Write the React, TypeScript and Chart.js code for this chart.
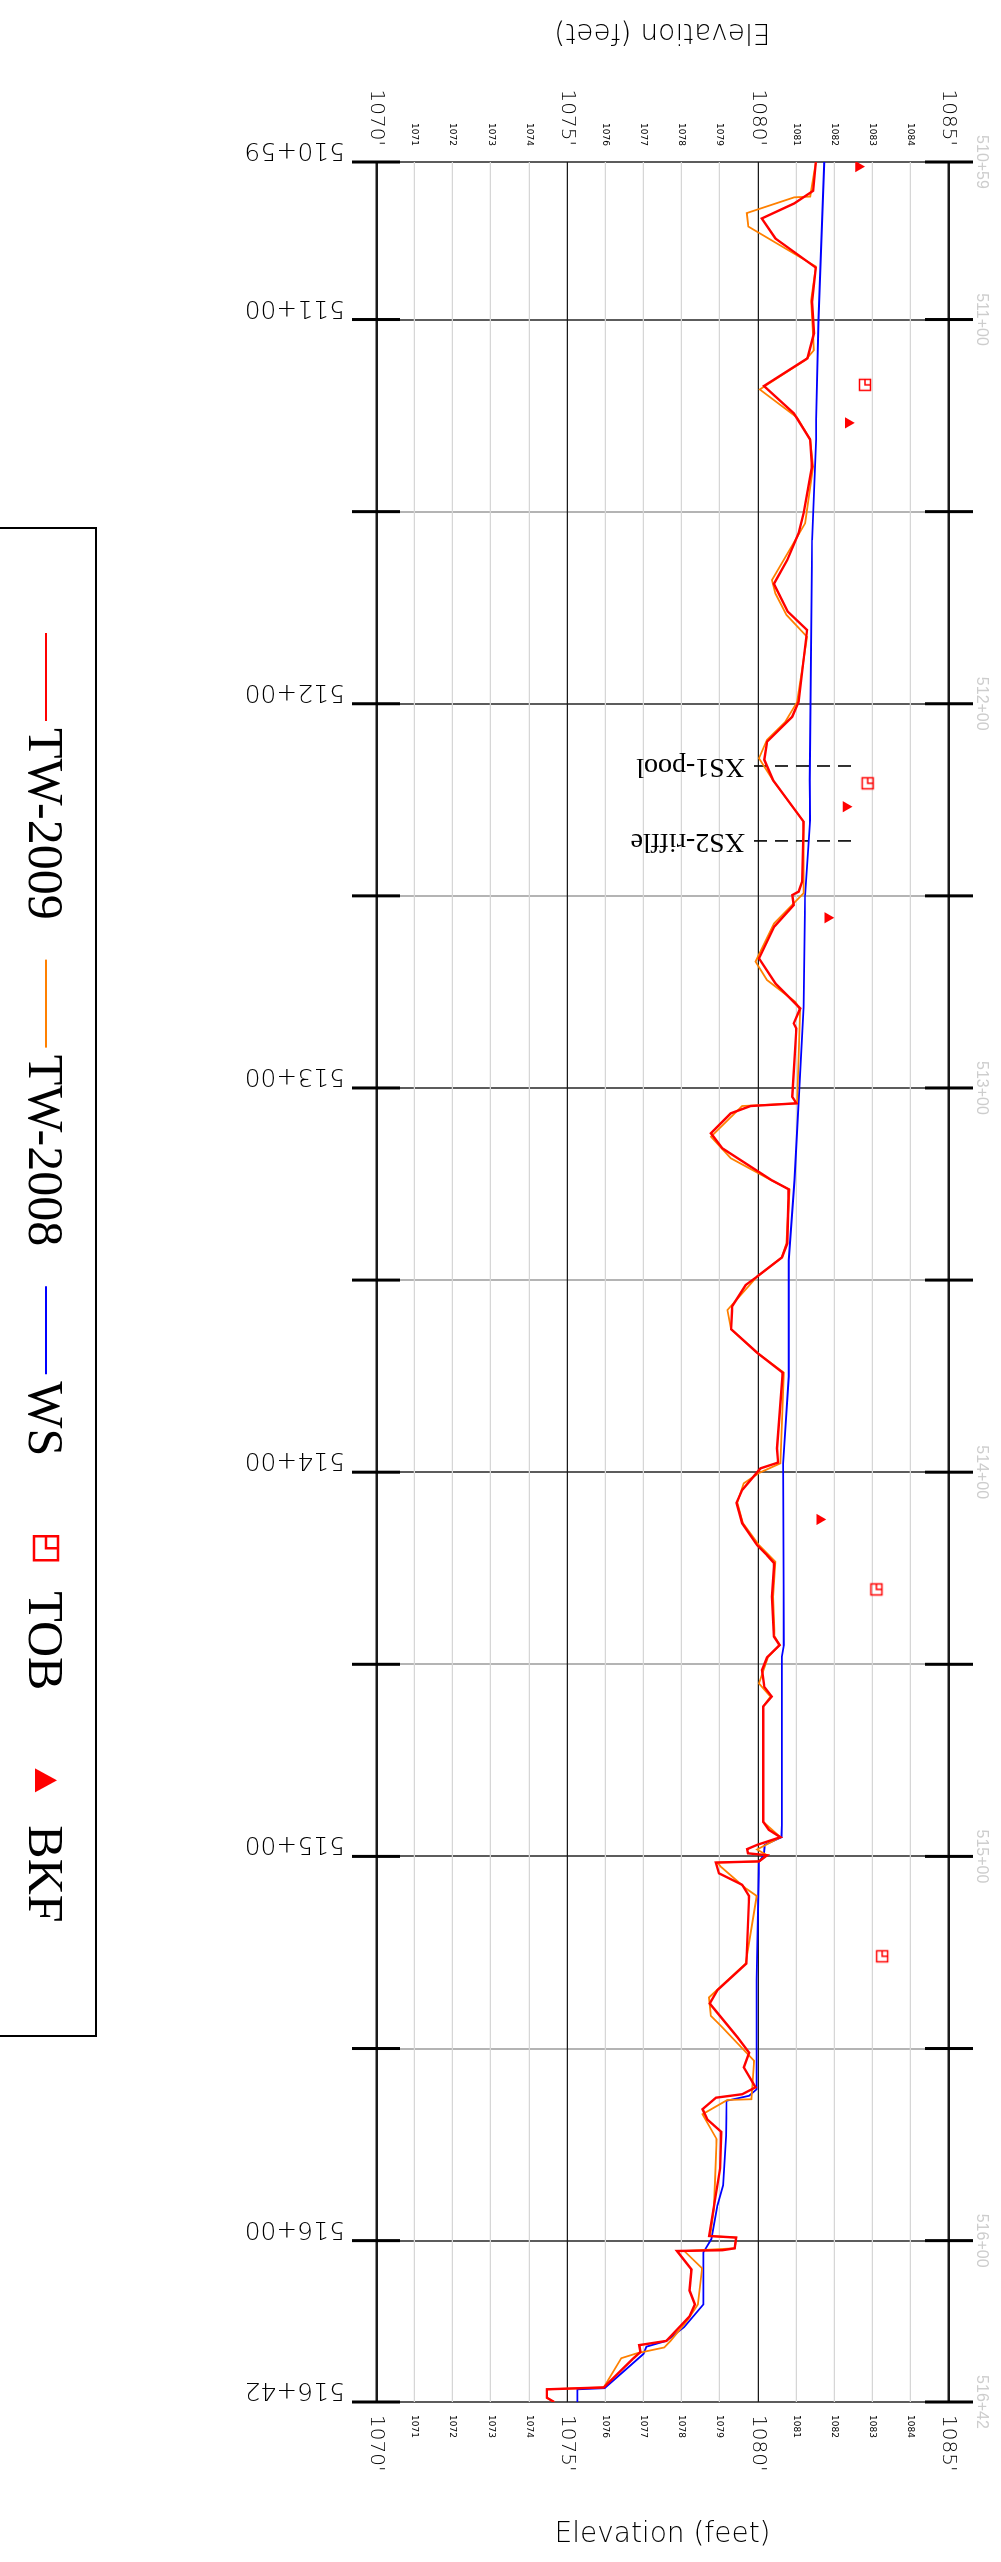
import React, { useEffect, useRef } from "react";
import { Chart, registerables } from "chart.js";

Chart.register(...registerables);

// ---------------- data ----------------
const stationMin = 51059;
const stationMax = 51642;
const elevMin = 1069.36;
const elevMax = 1085.64;

const elevTicks = [1070, 1071, 1072, 1073, 1074, 1075, 1076, 1077, 1078, 1079, 1080, 1081, 1082, 1083, 1084, 1085];
const stationGrid = [51059, 51100, 51150, 51200, 51250, 51300, 51350, 51400, 51450, 51500, 51550, 51600, 51642];
const stationLabelValues = [51059, 51100, 51200, 51300, 51400, 51500, 51600, 51642];

const tw2009Sta = [
  51059.0, 51066.5, 51069.8, 51073.7, 51078.9, 51086.5, 51095.4, 51103.6, 51110.1, 51117.3,
  51124.4, 51131.2, 51138.3, 51150.4, 51155.6, 51162.6, 51168.8, 51176.0, 51180.8, 51199.5,
  51203.4, 51209.9, 51214.6, 51219.9, 51230.7, 51246.3, 51248.9, 51249.8, 51252.4, 51258.0,
  51266.3, 51272.8, 51279.3, 51283.2, 51284.5, 51302.3, 51304.0, 51304.7, 51306.6, 51311.8,
  51315.7, 51324.0, 51326.4, 51340.5, 51344.1, 51349.1, 51351.3, 51356.8, 51362.8, 51368.9,
  51374.1, 51393.8, 51397.5, 51399.0, 51404.6, 51408.0, 51413.3, 51419.0, 51421.6, 51423.7,
  51432.4, 51442.8, 51445.0, 51448.2, 51451.5, 51455.9, 51458.4, 51461.0, 51491.0, 51493.1,
  51495.0, 51497.0, 51498.1, 51499.2, 51499.7, 51501.3, 51501.6, 51504.4, 51507.4, 51510.3,
  51527.9, 51534.8, 51538.3, 51547.0, 51551.1, 51554.9, 51560.1, 51561.9, 51562.8, 51565.8,
  51568.5, 51571.7, 51581.2, 51598.8, 51599.2, 51602.0, 51602.5, 51602.7, 51607.5, 51613.0,
  51616.6, 51619.7, 51626.1, 51627.2, 51629.0, 51630.7, 51638.2, 51638.7, 51640.9, 51642.0,
];
const tw2009Elev = [
  1081.52, 1081.45, 1080.95, 1080.10, 1080.46, 1081.52, 1081.42, 1081.47, 1081.30, 1080.16,
  1080.94, 1081.37, 1081.42, 1081.20, 1081.07, 1080.77, 1080.42, 1080.78, 1081.29, 1081.07,
  1080.90, 1080.24, 1080.17, 1080.40, 1081.20, 1081.16, 1081.07, 1080.90, 1080.94, 1080.43,
  1080.03, 1080.46, 1081.11, 1080.94, 1081.01, 1080.90, 1081.01, 1079.81, 1079.29, 1078.77,
  1079.07, 1080.36, 1080.81, 1080.77, 1080.63, 1079.98, 1079.68, 1079.33, 1079.30, 1079.98,
  1080.65, 1080.50, 1080.53, 1080.07, 1079.59, 1079.44, 1079.59, 1079.98, 1080.24, 1080.43,
  1080.37, 1080.42, 1080.57, 1080.24, 1080.11, 1080.17, 1080.36, 1080.14, 1080.14, 1080.29,
  1080.59, 1079.98, 1079.72, 1079.74, 1080.24, 1080.03, 1078.90, 1078.98, 1079.59, 1079.77,
  1079.70, 1078.94, 1078.74, 1079.46, 1079.77, 1079.63, 1079.94, 1079.59, 1078.90, 1078.55,
  1078.68, 1079.04, 1079.01, 1078.72, 1079.43, 1079.39, 1079.07, 1077.88, 1078.26, 1078.21,
  1078.35, 1078.21, 1077.60, 1076.89, 1076.92, 1076.73, 1075.96, 1074.47, 1074.47, 1074.66,
];

const tw2008Sta = [
  51059.0, 51068.0, 51068.2, 51072.3, 51075.8, 51086.2, 51095.0, 51108.0, 51110.5, 51118.2,
  51125.5, 51131.2, 51138.3, 51153.0, 51167.8, 51171.3, 51176.9, 51182.6, 51199.5, 51204.7,
  51209.4, 51214.2, 51220.0, 51230.7, 51249.3, 51257.2, 51267.1, 51271.9, 51277.6, 51279.7,
  51304.0, 51304.7, 51312.7, 51318.3, 51324.0, 51326.4, 51340.5, 51344.1, 51349.1, 51357.8,
  51362.8, 51368.9, 51374.1, 51397.7, 51400.2, 51402.9, 51408.0, 51413.3, 51419.0, 51423.3,
  51432.4, 51442.8, 51445.0, 51448.2, 51455.0, 51458.4, 51461.0, 51491.0, 51495.0, 51498.2,
  51499.7, 51501.3, 51501.6, 51502.7, 51508.3, 51510.3, 51527.9, 51536.7, 51541.5, 51544.1,
  51553.2, 51560.6, 51563.2, 51563.4, 51567.1, 51573.6, 51591.4, 51598.8, 51599.2, 51602.0,
  51602.7, 51607.2, 51616.6, 51620.8, 51626.1, 51627.8, 51629.3, 51630.6, 51638.2, 51638.7,
  51640.9, 51642.0,
];
const tw2008Elev = [
  1081.52, 1081.37, 1080.95, 1079.71, 1079.75, 1081.52, 1081.40, 1081.47, 1081.25, 1080.05,
  1081.03, 1081.37, 1081.45, 1081.24, 1080.37, 1080.46, 1080.75, 1081.29, 1081.03, 1080.72,
  1080.24, 1080.03, 1080.40, 1081.20, 1081.20, 1080.42, 1079.94, 1080.24, 1080.98, 1081.11,
  1081.03, 1079.59, 1078.77, 1079.29, 1080.35, 1080.83, 1080.75, 1080.63, 1079.98, 1079.20,
  1079.30, 1079.98, 1080.68, 1080.59, 1080.03, 1079.63, 1079.46, 1079.61, 1080.03, 1080.46,
  1080.40, 1080.44, 1080.57, 1080.26, 1080.03, 1080.33, 1080.14, 1080.14, 1080.59, 1079.98,
  1080.24, 1080.03, 1078.94, 1079.03, 1079.68, 1079.97, 1079.68, 1078.72, 1078.77, 1079.03,
  1079.90, 1079.85, 1079.83, 1079.20, 1078.55, 1078.92, 1078.85, 1078.75, 1079.43, 1079.39,
  1078.07, 1078.54, 1078.43, 1078.15, 1077.71, 1077.55, 1076.84, 1076.42, 1075.96, 1074.47,
  1074.47, 1074.66,
];

const wsSta = [
  51059.0, 51100.0, 51126.0, 51131.2, 51157.4, 51219.9, 51230.3, 51249.8, 51278.9, 51324.0,
  51344.8, 51375.1, 51397.7, 51445.0, 51448.0, 51491.8, 51495.0, 51497.0, 51499.6, 51501.4,
  51532.2, 51560.6, 51562.3, 51563.6, 51572.7, 51585.6, 51590.9, 51599.6, 51603.1, 51616.6,
  51622.5, 51626.1, 51627.6, 51629.5, 51638.4, 51638.7, 51642.0,
];
const wsElev = [
  1081.74, 1081.59, 1081.53, 1081.53, 1081.42, 1081.36, 1081.37, 1081.24, 1081.20, 1080.96,
  1080.81, 1080.81, 1080.66, 1080.68, 1080.63, 1080.63, 1080.62, 1080.18, 1080.16, 1080.03,
  1079.97, 1079.97, 1079.77, 1079.18, 1079.17, 1079.09, 1078.94, 1078.78, 1078.57, 1078.57,
  1078.07, 1077.60, 1077.08, 1077.00, 1075.98, 1075.27, 1075.27,
];

const tobSta = [51117.0, 51220.7, 51430.5, 51526.0];
const tobElev = [1082.81, 1082.88, 1083.11, 1083.26];

const bkfSta = [51060.2, 51126.9, 51226.8, 51255.7, 51412.3];
const bkfElev = [1082.64, 1082.37, 1082.31, 1081.83, 1081.62];

const xsStations = [51216.2, 51235.7];
const xsLabels = ["XS1-pool", "XS2-riffle"];
const xsElevRange = [1079.9, 1082.59];

const legendLabels = ["TW-2009", "TW-2008", "WS", "TOB", "BKF"];
const axisTitle = "Elevation (feet)";

// ---------------- styles ----------------
const RED = "#ff0000";
const ORANGE = "#ff8000";
const BLUE = "#0000ff";
const CAD_FONT = '"DejaVu Sans"';
const SERIF = '"Liberation Serif", "Times New Roman", serif';

function fmtStation(v: number): string {
  const h = Math.floor(v / 100);
  const r = Math.round(v - h * 100);
  return `${h}+${String(r).padStart(2, "0")}`;
}

function drawTob(g: CanvasRenderingContext2D, cx: number, cy: number, size: number, lw: number) {
  const o = size / 2;
  g.save();
  g.strokeStyle = RED;
  g.lineWidth = lw;
  g.strokeRect(cx - o, cy - o, size, size);
  g.beginPath();
  g.moveTo(cx - o, cy);
  g.lineTo(cx, cy);
  g.lineTo(cx, cy - o);
  g.stroke();
  g.restore();
}

function makeTobMarker(size: number, lw: number): HTMLCanvasElement {
  const c = document.createElement("canvas");
  const s = Math.ceil(size + lw * 2 + 2);
  c.width = s;
  c.height = s;
  const g = c.getContext("2d")!;
  drawTob(g, s / 2, s / 2, size, lw);
  return c;
}

const overlayPlugin = {
  id: "overlay",
  afterDraw(chart: any) {
    const { ctx, chartArea: ca, scales } = chart;
    const xs = scales.x;
    const ys = scales.y;
    ctx.save();

    // heavy end ticks on station grid lines
    ctx.strokeStyle = "#000";
    ctx.lineWidth = 3;
    for (const s of stationGrid) {
      const px = xs.getPixelForValue(s);
      ctx.beginPath();
      ctx.moveTo(px, ca.top);
      ctx.lineTo(px, ca.top + 48);
      ctx.moveTo(px, ca.bottom);
      ctx.lineTo(px, ca.bottom - 48);
      ctx.stroke();
    }

    // station labels below plot (rotated)
    ctx.fillStyle = "#000";
    ctx.font = `200 25px ${CAD_FONT}`;
    ctx.textAlign = "left";
    ctx.textBaseline = "alphabetic";
    for (const s of stationLabelValues) {
      const px = xs.getPixelForValue(s);
      ctx.save();
      ctx.translate(px, ca.bottom + 7);
      ctx.rotate(Math.PI / 2);
      ctx.fillText(fmtStation(s), 0, 19);
      ctx.restore();
    }

    // faint station labels above plot
    ctx.fillStyle = "#cdcdcd";
    ctx.font = `16px "Liberation Sans", Arial, sans-serif`;
    ctx.textAlign = "center";
    ctx.textBaseline = "middle";
    for (const s of stationLabelValues) {
      const px = xs.getPixelForValue(s);
      ctx.fillText(fmtStation(s), px, 20);
    }

    // axis titles
    ctx.fillStyle = "#000";
    ctx.font = `200 28px ${CAD_FONT}`;
    ctx.textAlign = "center";
    ctx.textBaseline = "middle";
    const midY = (ca.top + ca.bottom) / 2;
    ctx.save();
    ctx.translate(31, midY);
    ctx.rotate(Math.PI / 2);
    ctx.fillText(axisTitle, 0, 0);
    ctx.restore();
    ctx.save();
    ctx.translate(2535, midY);
    ctx.rotate(-Math.PI / 2);
    ctx.fillText(axisTitle, 0, 0);
    ctx.restore();

    // cross-section labels
    ctx.font = `28px ${SERIF}`;
    ctx.textAlign = "left";
    ctx.textBaseline = "middle";
    xsStations.forEach((s, i) => {
      const px = xs.getPixelForValue(s);
      const py = ys.getPixelForValue(xsElevRange[0]) + 9;
      ctx.save();
      ctx.translate(px, py);
      ctx.rotate(Math.PI / 2);
      ctx.fillText(xsLabels[i], 0, 0);
      ctx.restore();
    });

    // legend
    const boxL = 528;
    const boxR = 2036;
    const boxT = 905;
    ctx.strokeStyle = "#000";
    ctx.lineWidth = 2;
    ctx.strokeRect(boxL, boxT, boxR - boxL, 200);
    const cy = 955;
    const base = 972;
    ctx.font = `50px ${SERIF}`;
    ctx.textAlign = "left";
    ctx.textBaseline = "alphabetic";
    let x = 633;
    const symW = 88;
    const lineColors = [RED, ORANGE, BLUE];
    legendLabels.forEach((lab, i) => {
      if (i < 3) {
        ctx.strokeStyle = lineColors[i];
        ctx.lineWidth = 2;
        ctx.beginPath();
        ctx.moveTo(x, cy);
        ctx.lineTo(x + symW, cy);
        ctx.stroke();
      } else if (i === 3) {
        drawTob(ctx, x + symW / 2 + 8, cy, 24, 2.5);
      } else {
        const tx = x + symW / 2 + 6;
        ctx.fillStyle = RED;
        ctx.beginPath();
        ctx.moveTo(tx, cy - 11);
        ctx.lineTo(tx + 12, cy + 11);
        ctx.lineTo(tx - 12, cy + 11);
        ctx.closePath();
        ctx.fill();
      }
      ctx.fillStyle = "#000";
      const textX = x + symW + 7;
      ctx.fillText(lab, textX, base);
      x = textX + ctx.measureText(lab).width + 40;
    });

    ctx.restore();
  },
};

export default function App() {
  const ref = useRef<HTMLCanvasElement>(null);

  useEffect(() => {
    const canvas = ref.current;
    if (!canvas) return;
    const pts = (s: number[], e: number[]) => s.map((v, i) => ({ x: v, y: e[i] }));
    const tobMarker = makeTobMarker(11, 1.5);

    const isMajorStation = (v: number) => v % 100 === 0 || v === stationMin || v === stationMax;
    const tickFont = (c: any) => {
      const v = c.tick ? c.tick.value : 0;
      return v % 5 === 0
        ? { family: CAD_FONT, size: 20, weight: "200" as any }
        : { family: CAD_FONT, size: 9, weight: "normal" as any };
    };
    const tickLabel = (v: any) => (Number(v) % 5 === 0 ? `${v}'` : `${v}`);

    const chart = new Chart(canvas, {
      type: "line",
      data: {
        datasets: [
          {
            label: legendLabels[3],
            data: pts(tobSta, tobElev),
            showLine: false,
            pointStyle: tobMarker as any,
            pointRadius: 6,
            borderColor: RED,
            backgroundColor: RED,
          },
          {
            label: legendLabels[4],
            data: pts(bkfSta, bkfElev),
            showLine: false,
            pointStyle: "triangle",
            pointRadius: 6.5,
            borderWidth: 0,
            borderColor: RED,
            backgroundColor: RED,
          },
          {
            label: legendLabels[0],
            data: pts(tw2009Sta, tw2009Elev),
            borderColor: RED,
            borderWidth: 2.4,
            pointRadius: 0,
            fill: false,
          },
          {
            label: legendLabels[1],
            data: pts(tw2008Sta, tw2008Elev),
            borderColor: ORANGE,
            borderWidth: 1.8,
            pointRadius: 0,
            fill: false,
          },
          {
            label: legendLabels[2],
            data: pts(wsSta, wsElev),
            borderColor: BLUE,
            borderWidth: 1.8,
            pointRadius: 0,
            fill: false,
          },
          ...xsStations.map((s, i) => ({
            label: xsLabels[i],
            data: [
              { x: s, y: xsElevRange[0] },
              { x: s, y: xsElevRange[1] },
            ],
            borderColor: "#000",
            borderWidth: 1.6,
            borderDash: [13, 8],
            pointRadius: 0,
            fill: false,
          })),
        ] as any,
      },
      options: {
        responsive: false,
        animation: false,
        devicePixelRatio: 1,
        layout: { padding: { top: 24, left: 0, right: 0, bottom: 0 } },
        plugins: {
          legend: { display: false },
          tooltip: { enabled: false },
        },
        events: [],
        scales: {
          x: {
            type: "linear",
            position: "bottom",
            min: stationMin,
            max: stationMax,
            border: { display: false },
            afterBuildTicks: (scale: any) => {
              scale.ticks = stationGrid.map((v) => ({ value: v }));
            },
            afterFit: (scale: any) => {
              scale.height = 352;
            },
            ticks: { display: false },
            grid: {
              drawTicks: false,
              color: (c: any) => (c.tick && isMajorStation(c.tick.value) ? "#5c5c5c" : "#b4b4b4"),
              lineWidth: 2,
            },
          },
          y: {
            type: "linear",
            position: "left",
            min: elevMin,
            max: elevMax,
            border: { display: false },
            afterBuildTicks: (scale: any) => {
              scale.ticks = elevTicks.map((v) => ({ value: v }));
            },
            afterFit: (scale: any) => {
              scale.width = 162;
            },
            ticks: {
              color: "#000",
              padding: 16,
              font: tickFont as any,
              callback: tickLabel,
            },
            grid: {
              drawTicks: false,
              color: (c: any) => {
                const v = c.tick ? c.tick.value : 0;
                return v % 5 === 0 ? "#1a1a1a" : "#d6d6d6";
              },
              lineWidth: (c: any) => {
                const v = c.tick ? c.tick.value : 0;
                return v === 1070 || v === 1085 ? 2.5 : v % 5 === 0 ? 1.3 : 1.2;
              },
            },
          },
          y2: {
            type: "linear",
            position: "right",
            min: elevMin,
            max: elevMax,
            border: { display: false },
            afterBuildTicks: (scale: any) => {
              scale.ticks = elevTicks.map((v) => ({ value: v }));
            },
            afterFit: (scale: any) => {
              scale.width = 160;
            },
            ticks: {
              color: "#000",
              padding: 13,
              font: tickFont as any,
              callback: tickLabel,
            },
            grid: { drawOnChartArea: false, drawTicks: false },
          },
        },
      } as any,
      plugins: [overlayPlugin],
    });

    return () => chart.destroy();
  }, []);

  return (
    <div
      style={{
        position: "absolute",
        left: 0,
        top: 0,
        width: 1001,
        height: 2562,
        overflow: "hidden",
        background: "#fff",
      }}
    >
      <div
        style={{
          position: "absolute",
          left: 0,
          top: 0,
          width: 2562,
          height: 1001,
          transformOrigin: "0 0",
          transform: "translate(1001px, 0px) rotate(90deg)",
        }}
      >
        <canvas ref={ref} width={2562} height={1001} style={{ display: "block", width: 2562, height: 1001 }} />
      </div>
    </div>
  );
}
